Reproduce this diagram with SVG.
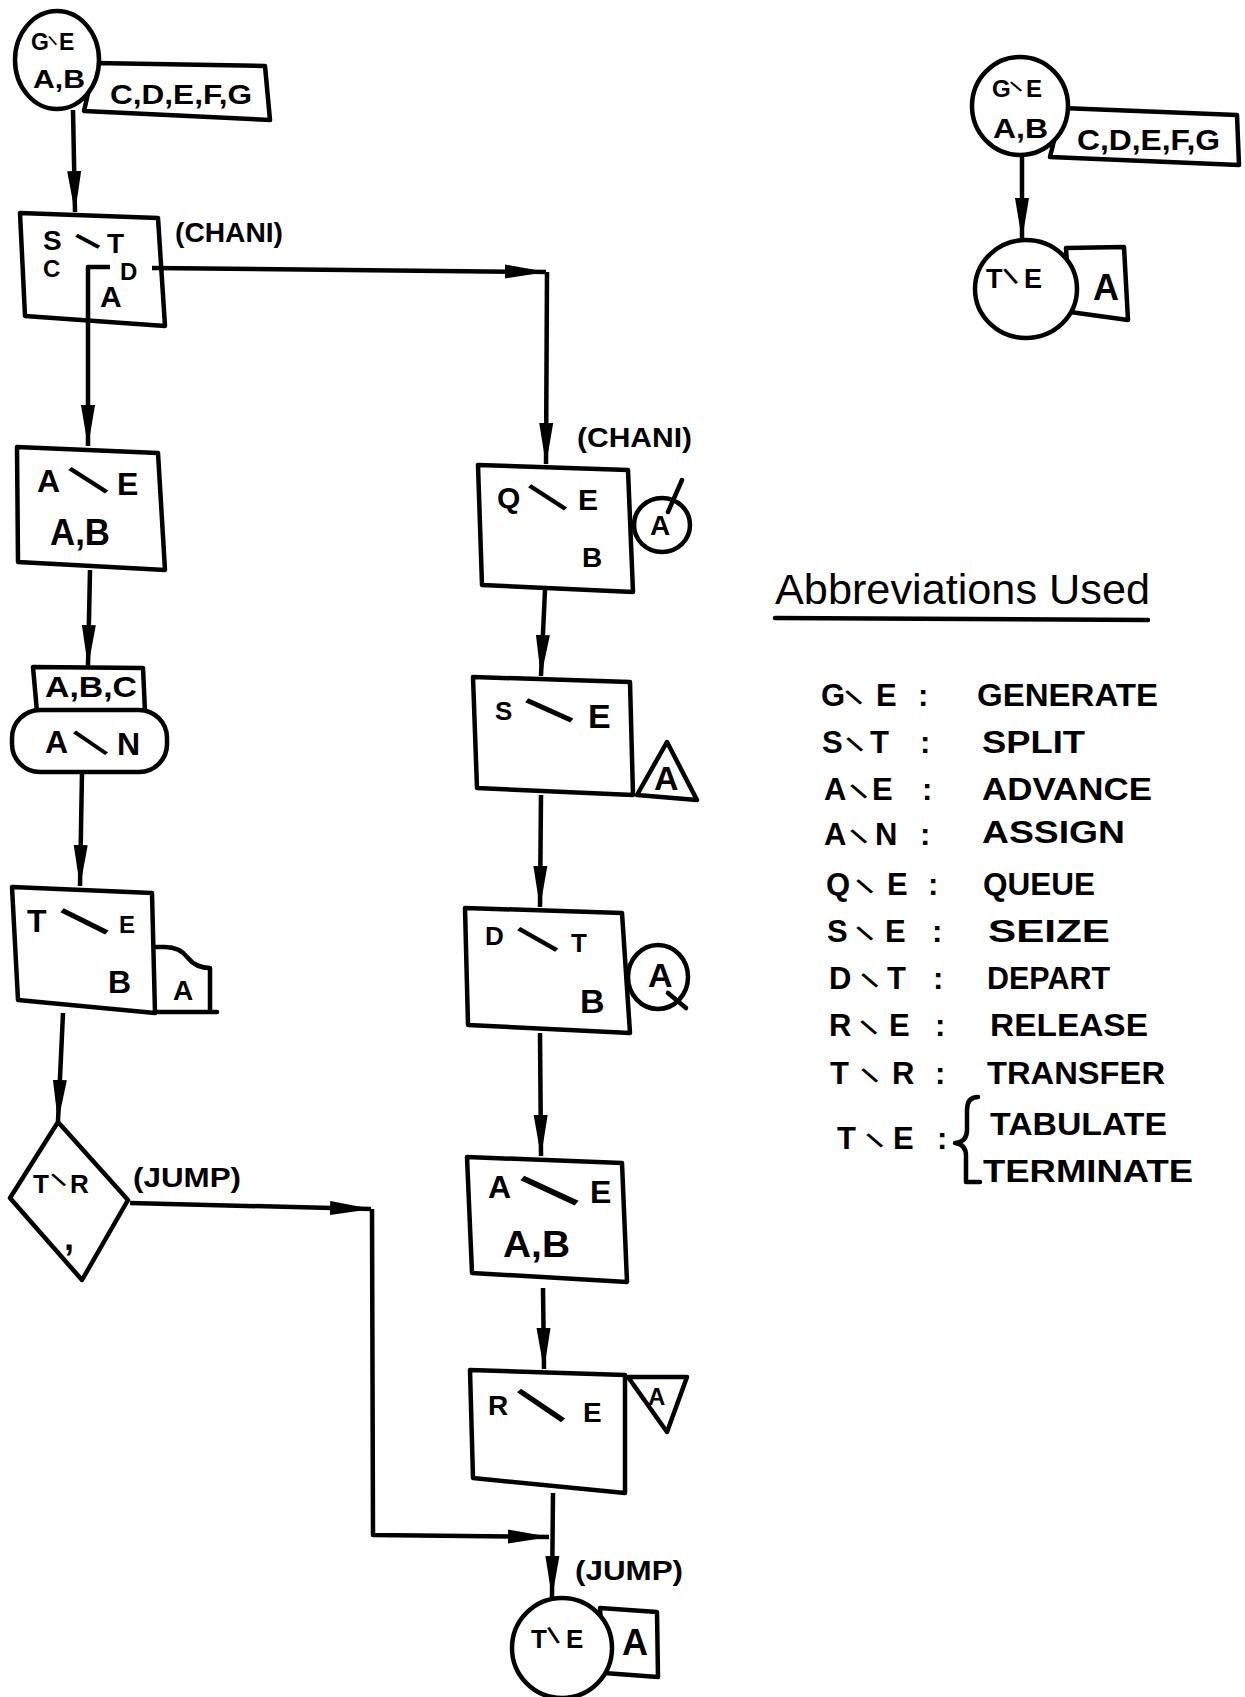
<svg xmlns="http://www.w3.org/2000/svg" width="1245" height="1697" viewBox="0 0 1245 1697">
<defs>
<style>
.sh{fill:#fff;stroke:#000;stroke-width:4.5;stroke-linejoin:round;stroke-linecap:round}
.ln{fill:none;stroke:#000;stroke-width:4.5;stroke-linejoin:round;stroke-linecap:round}
.cn{fill:none;stroke:#000;stroke-width:4.5;stroke-linejoin:round;stroke-linecap:butt;marker-end:url(#ah)}
.t{font-family:"Liberation Sans",Arial,sans-serif;font-weight:bold;fill:#000}
.n{font-family:"Liberation Sans",Arial,sans-serif;font-weight:normal;fill:#000}
</style>
<marker id="ah" markerUnits="userSpaceOnUse" markerWidth="42" markerHeight="16" viewBox="0 0 42 16" refX="41" refY="8" orient="auto">
<path d="M0,1 L42,8 L0,15 Z" fill="#000"/>
</marker>
</defs>
<rect width="1245" height="1697" fill="#fff"/>

<g id="generate1">
<path class="sh" d="M95,63 L265,66 L270,120 L84,111 Z"/>
<ellipse class="sh" cx="57" cy="60" rx="42" ry="49"/>
<text class="t" font-size="23"><tspan x="31" y="50">G</tspan><tspan x="53.5" y="46.1" font-size="14.6" rotate="-31">\</tspan><tspan x="59" y="50">E</tspan></text>
<text class="t" x="33" y="88" font-size="26" textLength="52" lengthAdjust="spacingAndGlyphs">A,B</text>
<text class="t" x="110" y="104" font-size="28" textLength="142" lengthAdjust="spacingAndGlyphs">C,D,E,F,G</text>
</g>

<g id="split">
<path class="sh" d="M20,213 L158,218 L165,326 L25,316 Z"/>
<text class="t" font-size="28"><tspan x="43" y="250">S</tspan><tspan x="94.1" y="252.3" font-size="33.6" rotate="-51.3">\</tspan><tspan x="107" y="253">T</tspan></text>
<text class="t" x="43" y="277" font-size="24">C</text>
<text class="t" x="120" y="280" font-size="24">D</text>
<text class="t" x="100" y="307" font-size="30">A</text>
<text class="t" x="175" y="242" font-size="27" textLength="108" lengthAdjust="spacingAndGlyphs">(CHANI)</text>
</g>

<g id="advance1">
<path class="sh" d="M17,447 L158,453 L165,570 L18,562 Z"/>
<text class="t" font-size="32"><tspan x="37" y="492">A</tspan><tspan x="96.2" y="500.8" font-size="57.3" font-weight="normal" rotate="-42.4">\</tspan><tspan x="117" y="495">E</tspan></text>
<text class="t" x="50" y="545" font-size="36" textLength="60" lengthAdjust="spacingAndGlyphs">A,B</text>
</g>

<g id="assign">
<path class="sh" d="M33,667 L143,668 L145,712 L37,712 Z"/>
<text class="t" x="45" y="697" font-size="30" textLength="92" lengthAdjust="spacingAndGlyphs">A,B,C</text>
<rect class="sh" x="12" y="710" width="155" height="62" rx="28" ry="28"/>
<text class="t" font-size="32"><tspan x="45" y="753">A</tspan><tspan x="97.1" y="761.3" font-size="51" font-weight="normal" rotate="-40.5">\</tspan><tspan x="117" y="755">N</tspan></text>
</g>

<g id="tabulate">
<path class="ln" d="M155,947 L165,947 Q180,947 188,958 Q196,968 210,968 L210,1012 M155,1012 L217,1012"/>
<path class="sh" d="M12,887 L152,893 L155,1013 L18,1000 Z"/>
<text class="t" font-size="32"><tspan x="27" y="932">T</tspan><tspan x="96" y="943.8" font-size="65.7" font-weight="normal" rotate="-48.4">\</tspan><tspan x="119" y="933" font-size="24">E</tspan></text>
<text class="t" x="108" y="993" font-size="32">B</text>
<text class="t" x="173" y="1000" font-size="28">A</text>
</g>

<g id="transfer">
<path class="sh" d="M58,1122 L128,1200 L82,1280 L10,1198 Z"/>
<text class="t" font-size="26"><tspan x="33" y="1193">T</tspan><tspan x="61" y="1187.9" font-size="22.4" rotate="-38">\</tspan><tspan x="70" y="1193">R</tspan></text>
<text class="t" x="64" y="1250" font-size="36">,</text>
<text class="t" x="133" y="1187" font-size="27" textLength="108" lengthAdjust="spacingAndGlyphs">(JUMP)</text>
</g>

<g id="queue">
<path class="sh" d="M478,465 L628,470 L633,592 L482,585 Z"/>
<text class="t" font-size="30"><tspan x="497" y="508">Q</tspan><tspan x="555.3" y="517.5" font-size="56.2" font-weight="normal" rotate="-41.9">\</tspan><tspan x="578" y="510">E</tspan></text>
<text class="t" x="582" y="567" font-size="28">B</text>
<ellipse class="sh" cx="662" cy="525" rx="28" ry="27"/>
<text class="t" x="650" y="535" font-size="28">A</text>
<path class="ln" d="M668,512 L682,480"/>
<text class="t" x="577" y="447" font-size="27" textLength="115" lengthAdjust="spacingAndGlyphs">(CHANI)</text>
</g>

<g id="seize">
<path class="sh" d="M473,677 L630,682 L633,795 L477,788 Z"/>
<text class="t" font-size="26"><tspan x="495" y="720">S</tspan><tspan x="561.5" y="732" font-size="64.9" font-weight="normal" rotate="-50.6">\</tspan><tspan x="588" y="728" font-size="34">E</tspan></text>
<path class="sh" d="M637,795 L667,742 L697,800 Z"/>
<text class="t" x="654" y="790" font-size="34">A</text>
</g>

<g id="depart">
<path class="sh" d="M465,908 L622,913 L630,1033 L468,1025 Z"/>
<text class="t" font-size="26"><tspan x="485" y="945">D</tspan><tspan x="546.7" y="959.4" font-size="57.4" font-weight="normal" rotate="-45.3">\</tspan><tspan x="571" y="952">T</tspan></text>
<text class="t" x="580" y="1013" font-size="34">B</text>
<ellipse class="sh" cx="658" cy="977" rx="30" ry="32"/>
<text class="t" x="648" y="987" font-size="34">A</text>
<path class="ln" d="M668,993 L686,1008"/>
</g>

<g id="advance2">
<path class="sh" d="M467,1157 L622,1163 L627,1282 L472,1273 Z"/>
<text class="t" font-size="32"><tspan x="488" y="1198">A</tspan><tspan x="564" y="1216.9" font-size="78.7" font-weight="normal" rotate="-50">\</tspan><tspan x="590" y="1203">E</tspan></text>
<text class="t" x="503" y="1257" font-size="36" textLength="67" lengthAdjust="spacingAndGlyphs">A,B</text>
</g>

<g id="release">
<path class="sh" d="M470,1370 L625,1375 L625,1493 L473,1478 Z"/>
<path class="sh" d="M628,1377 L687,1377 L667,1432 Z"/>
<text class="t" font-size="28"><tspan x="488" y="1415">R</tspan><tspan x="550.1" y="1430.8" font-size="70" font-weight="normal" rotate="-40.6">\</tspan><tspan x="583" y="1422">E</tspan></text>
<text class="t" x="648" y="1405" font-size="24">A</text>
</g>

<g id="terminate1">
<path class="sh" d="M600,1608 L657,1612 L658,1677 L604,1673 Z"/>
<ellipse class="sh" cx="562" cy="1648" rx="50" ry="50"/>
<text class="t" font-size="26"><tspan x="531" y="1648">T</tspan><tspan x="553.6" y="1644.6" font-size="24.5" rotate="-22">\</tspan><tspan x="566" y="1648">E</tspan></text>
<text class="t" x="622" y="1655" font-size="36">A</text>
<text class="t" x="575" y="1580" font-size="27" textLength="108" lengthAdjust="spacingAndGlyphs">(JUMP)</text>
</g>

<g id="generate2">
<path class="sh" d="M1062,108 L1237,115 L1239,165 L1050,157 Z"/>
<ellipse class="sh" cx="1020" cy="106" rx="48" ry="49"/>
<text class="t" font-size="24"><tspan x="992" y="97">G</tspan><tspan x="1018.1" y="93.1" font-size="17.8" rotate="-39">\</tspan><tspan x="1026" y="97">E</tspan></text>
<text class="t" x="993" y="138" font-size="28" textLength="55" lengthAdjust="spacingAndGlyphs">A,B</text>
<text class="t" x="1077" y="150" font-size="30" textLength="143" lengthAdjust="spacingAndGlyphs">C,D,E,F,G</text>
</g>

<g id="terminate2">
<path class="sh" d="M1066,248 L1124,247 L1128,320 L1070,312 Z"/>
<ellipse class="sh" cx="1026" cy="289" rx="51" ry="49"/>
<text class="t" font-size="27"><tspan x="986" y="288">T</tspan><tspan x="1012.1" y="285.5" font-size="24.6" rotate="-30.3">\</tspan><tspan x="1024" y="288">E</tspan></text>
<text class="t" x="1093" y="300" font-size="36">A</text>
</g>

<g id="legend">
<text class="n" x="775" y="604" font-size="42" textLength="375" lengthAdjust="spacingAndGlyphs">Abbreviations Used</text>
<path class="ln" d="M775,618 L1148,620"/>
<g class="t" font-size="31">
<text><tspan x="821" y="706">G</tspan><tspan x="856.5" y="706.4" font-size="25.3" rotate="-38.5">\</tspan><tspan x="876" y="706">E</tspan><tspan x="918" y="706">:</tspan></text>
<text><tspan x="822" y="753">S</tspan><tspan x="857.5" y="753.4" font-size="25.3" rotate="-38.5">\</tspan><tspan x="870" y="753">T</tspan><tspan x="920" y="753">:</tspan></text>
<text><tspan x="824" y="800">A</tspan><tspan x="861.5" y="800.4" font-size="25.3" rotate="-38.5">\</tspan><tspan x="872" y="800">E</tspan><tspan x="922" y="800">:</tspan></text>
<text><tspan x="824" y="845">A</tspan><tspan x="861.5" y="845.4" font-size="25.3" rotate="-38.5">\</tspan><tspan x="875" y="845">N</tspan><tspan x="920" y="845">:</tspan></text>
<text><tspan x="826" y="895">Q</tspan><tspan x="867.5" y="895.4" font-size="25.3" rotate="-38.5">\</tspan><tspan x="887" y="895">E</tspan><tspan x="928" y="895">:</tspan></text>
<text><tspan x="827" y="942">S</tspan><tspan x="867.5" y="942.4" font-size="25.3" rotate="-38.5">\</tspan><tspan x="885" y="942">E</tspan><tspan x="932" y="942">:</tspan></text>
<text><tspan x="829" y="989">D</tspan><tspan x="872.5" y="989.4" font-size="25.3" rotate="-38.5">\</tspan><tspan x="887" y="989">T</tspan><tspan x="933" y="989">:</tspan></text>
<text><tspan x="829" y="1036">R</tspan><tspan x="871.5" y="1036.4" font-size="25.3" rotate="-38.5">\</tspan><tspan x="889" y="1036">E</tspan><tspan x="935" y="1036">:</tspan></text>
<text><tspan x="830" y="1084">T</tspan><tspan x="872.5" y="1084.4" font-size="25.3" rotate="-38.5">\</tspan><tspan x="892" y="1084">R</tspan><tspan x="935" y="1084">:</tspan></text>
<text><tspan x="837" y="1149">T</tspan><tspan x="877.5" y="1149.4" font-size="25.3" rotate="-38.5">\</tspan><tspan x="893" y="1149">E</tspan><tspan x="937" y="1149">:</tspan></text>
<text x="977" y="706" textLength="181" lengthAdjust="spacingAndGlyphs">GENERATE</text>
<text x="982" y="753" textLength="103" lengthAdjust="spacingAndGlyphs">SPLIT</text>
<text x="982" y="800" textLength="170" lengthAdjust="spacingAndGlyphs">ADVANCE</text>
<text x="982" y="843" textLength="143" lengthAdjust="spacingAndGlyphs">ASSIGN</text>
<text x="983" y="895" textLength="112" lengthAdjust="spacingAndGlyphs">QUEUE</text>
<text x="988" y="942" textLength="122" lengthAdjust="spacingAndGlyphs">SEIZE</text>
<text x="987" y="989" textLength="123" lengthAdjust="spacingAndGlyphs">DEPART</text>
<text x="990" y="1036" textLength="158" lengthAdjust="spacingAndGlyphs">RELEASE</text>
<text x="987" y="1084" textLength="178" lengthAdjust="spacingAndGlyphs">TRANSFER</text>
<text x="990" y="1135" textLength="177" lengthAdjust="spacingAndGlyphs">TABULATE</text>
<text x="983" y="1182" textLength="210" lengthAdjust="spacingAndGlyphs">TERMINATE</text>
</g>
<path class="ln" d="M978,1097 Q967,1097 967,1110 L967,1130 Q967,1142 955,1143 Q966,1144 966,1156 L966,1182 L980,1182"/>
</g>

<g id="connectors">
<path class="cn" d="M73,110 L75,212"/>
<path class="cn" d="M110,267 L88,267 L88,446"/>
<path class="cn" d="M152,268 L546,272"/>
<path class="cn" d="M547,272 L546,464"/>
<path class="cn" d="M90,570 L88,666"/>
<path class="cn" d="M82,772 L80,886"/>
<path class="cn" d="M63,1013 L58,1121"/>
<path class="cn" d="M130,1203 L371,1209"/>
<path class="cn" d="M372,1209 L373,1535 L549,1537"/>
<path class="cn" d="M545,590 L541,676"/>
<path class="cn" d="M541,795 L540,907"/>
<path class="cn" d="M540,1033 L541,1156"/>
<path class="cn" d="M543,1288 L544,1369"/>
<path class="cn" d="M553,1493 L552,1597"/>
<path class="cn" d="M1022,155 L1022,239"/>
</g>
</svg>
